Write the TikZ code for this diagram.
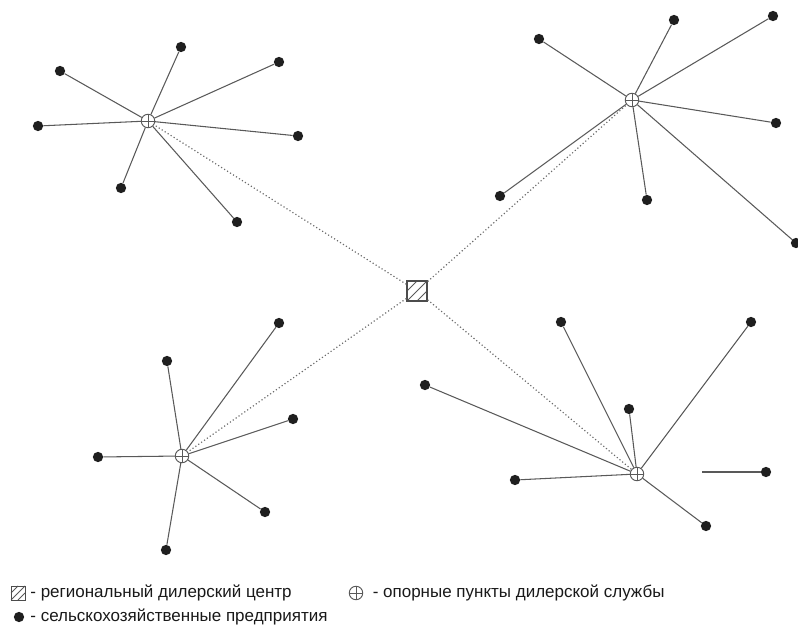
\documentclass[tikz,border=0pt]{standalone}
\usepackage{fontspec}
\setmainfont{Liberation Sans}
\usetikzlibrary{positioning,calc}

\begin{document}
\begin{tikzpicture}[x=0.03cm,y=-0.03cm,
				farm/.style={
					circle,
					fill=black!88,
					inner sep=0pt,
					minimum size=8.8pt
				},
				hub/.style={
					circle,
					draw=black!65,
					line width=0.8pt,
					inner sep=0pt,
					minimum size=11.5pt,
					path picture={
						\draw[black!65,line width=0.8pt]
						(path picture bounding box.north) -- (path picture bounding box.south)
						(path picture bounding box.west) -- (path picture bounding box.east);
					}
				},
				centre/.style={
					draw=black!70,
					line width=1.2pt,
					inner sep=0pt,
					minimum size=#1,
					path picture={
						\draw[black!65,line width=0.8pt]
						(path picture bounding box.south west) -- (path picture bounding box.north east)
						($(path picture bounding box.south west)!0.5!(path picture bounding box.south east)$) -- ($(path picture bounding box.north east)!0.5!(path picture bounding box.south east)$)
						($(path picture bounding box.south west)!0.5!(path picture bounding box.north west)$) -- ($(path picture bounding box.north west)!0.5!(path picture bounding box.north east)$);
					}
				},
				centre/.default=17pt,
				spoke/.style={draw=black!65,line width=0.9pt},
				link/.style={draw=black!58,line width=1pt,dotted},
				legend/.style={anchor=west,inner sep=0pt,text=black!90,
					font=\fontsize{14.5}{17}\selectfont}
			]
			\useasboundingbox (0,0) rectangle (798,626);

			% regional centre
			\node[centre] (rc) at (417,291) {};

			% dealer service points
			\node[hub] (hA) at (148,121) {};
			\node[hub] (hB) at (632,100) {};
			\node[hub] (hC) at (182,456) {};
			\node[hub] (hD) at (637,474) {};

			% farms
			\foreach \n/\x/\y in {1/181/47,2/60/71,3/279/62,4/38/126,5/298/136,6/121/188,7/237/222}
				\node[farm] (a\n) at (\x,\y) {};
			\foreach \n/\x/\y in {1/539/39,2/674/20,3/773/16,4/776/123,5/647/200,6/500/196,7/796/243}
				\node[farm] (b\n) at (\x,\y) {};
			\foreach \n/\x/\y in {1/167/361,2/279/323,3/98/457,4/293/419,5/265/512,6/166/550}
				\node[farm] (c\n) at (\x,\y) {};
			\foreach \n/\x/\y in {1/561/322,2/751/322,3/425/385,4/629/409,5/515/480,6/706/526,7/766/472}
				\node[farm] (d\n) at (\x,\y) {};
			\coordinate (d7end) at (702,472);

			\foreach \n in {1,...,7} \draw[spoke] (hA) -- (a\n);
			\foreach \n in {1,...,7} \draw[spoke] (hB) -- (b\n);
			\foreach \n in {1,...,6} \draw[spoke] (hC) -- (c\n);
			\foreach \n in {1,...,6} \draw[spoke] (hD) -- (d\n);
			\draw[spoke] (d7end) -- (d7);

			\foreach \h in {hA,hB,hC,hD} \draw[link] (rc) -- (\h);

			% legend
			\node[centre=12pt,line width=0.8pt] (kc) at (18,593) {};
			\node[legend,right=4pt of kc] (kct) {- региональный дилерский центр};
			\node[hub] (kh) at (356,593) {};
			\node[legend,right=8pt of kh] (kht) {- опорные пункты дилерской службы};
			\node[farm] (kf) at (19,617) {};
			\node[legend,anchor=west] (kft) at (kct.west|-kf) {- сельскохозяйственные предприятия};
\end{tikzpicture}
\end{document}
